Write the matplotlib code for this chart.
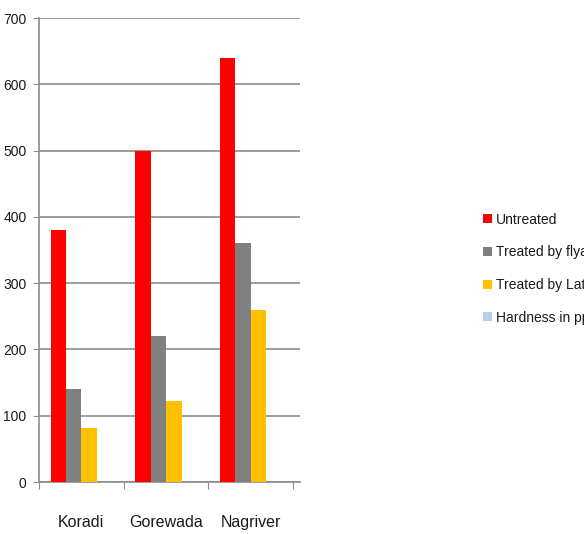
import numpy as np
import matplotlib.pyplot as plt

plt.rcParams['font.family'] = ['Liberation Sans', 'DejaVu Sans']

sites = ['Koradi', 'Gorewada', 'Nagriver']
series = ['Untreated', 'Treated by flyash', 'Treated by Laterite', 'Hardness in ppm']
untreated = [380, 500, 640]
flyash = [140, 220, 360]
laterite = [82, 122, 260]
hardness = [0, 0, 0]
colors = ['#ff0000', '#808080', '#ffc000', '#b9cdf0']

fig = plt.figure(figsize=(5.84, 5.34), dpi=100, facecolor='white')
ax = fig.add_axes([39/584, 52/534, 261/584, 464/534])

x = np.arange(len(sites))
w = 0.182
for i, vals in enumerate([untreated, flyash, laterite, hardness]):
    ax.bar(x + (i - 1.5) * w, vals, w, color=colors[i], label=series[i], zorder=3)

ax.set_xlim(-0.5, 2.58)
ax.set_ylim(0, 700)
ax.set_yticks(range(0, 701, 100))
ax.yaxis.grid(True, color='#8c8c8c', linewidth=1.2, zorder=0)
ax.set_xticks(np.arange(-0.5, 2.6, 1))
ax.set_xticklabels([])
ax.set_xticks(x, minor=True)
ax.set_xticklabels(sites, minor=True, fontsize=11.5, color='#1a1a1a')
ax.tick_params(axis='x', which='minor', length=0, pad=24)
ax.tick_params(axis='x', which='major', length=5, color='#8c8c8c')
ax.tick_params(axis='y', length=4, color='#8c8c8c', labelsize=10, pad=5,
               labelcolor='#1a1a1a')
for s in ['top', 'right']:
    ax.spines[s].set_visible(False)
for s in ['left', 'bottom']:
    ax.spines[s].set_color('#8c8c8c')
    ax.spines[s].set_linewidth(1.2)

fig.legend(loc='upper left', bbox_to_anchor=(471/584, 1 - 200/534), frameon=False,
           fontsize=10, handlelength=0.6, handleheight=0.6, handletextpad=0.3,
           labelspacing=1.35, labelcolor='#1a1a1a')

fig.savefig('out.png', dpi=100, facecolor='white')
